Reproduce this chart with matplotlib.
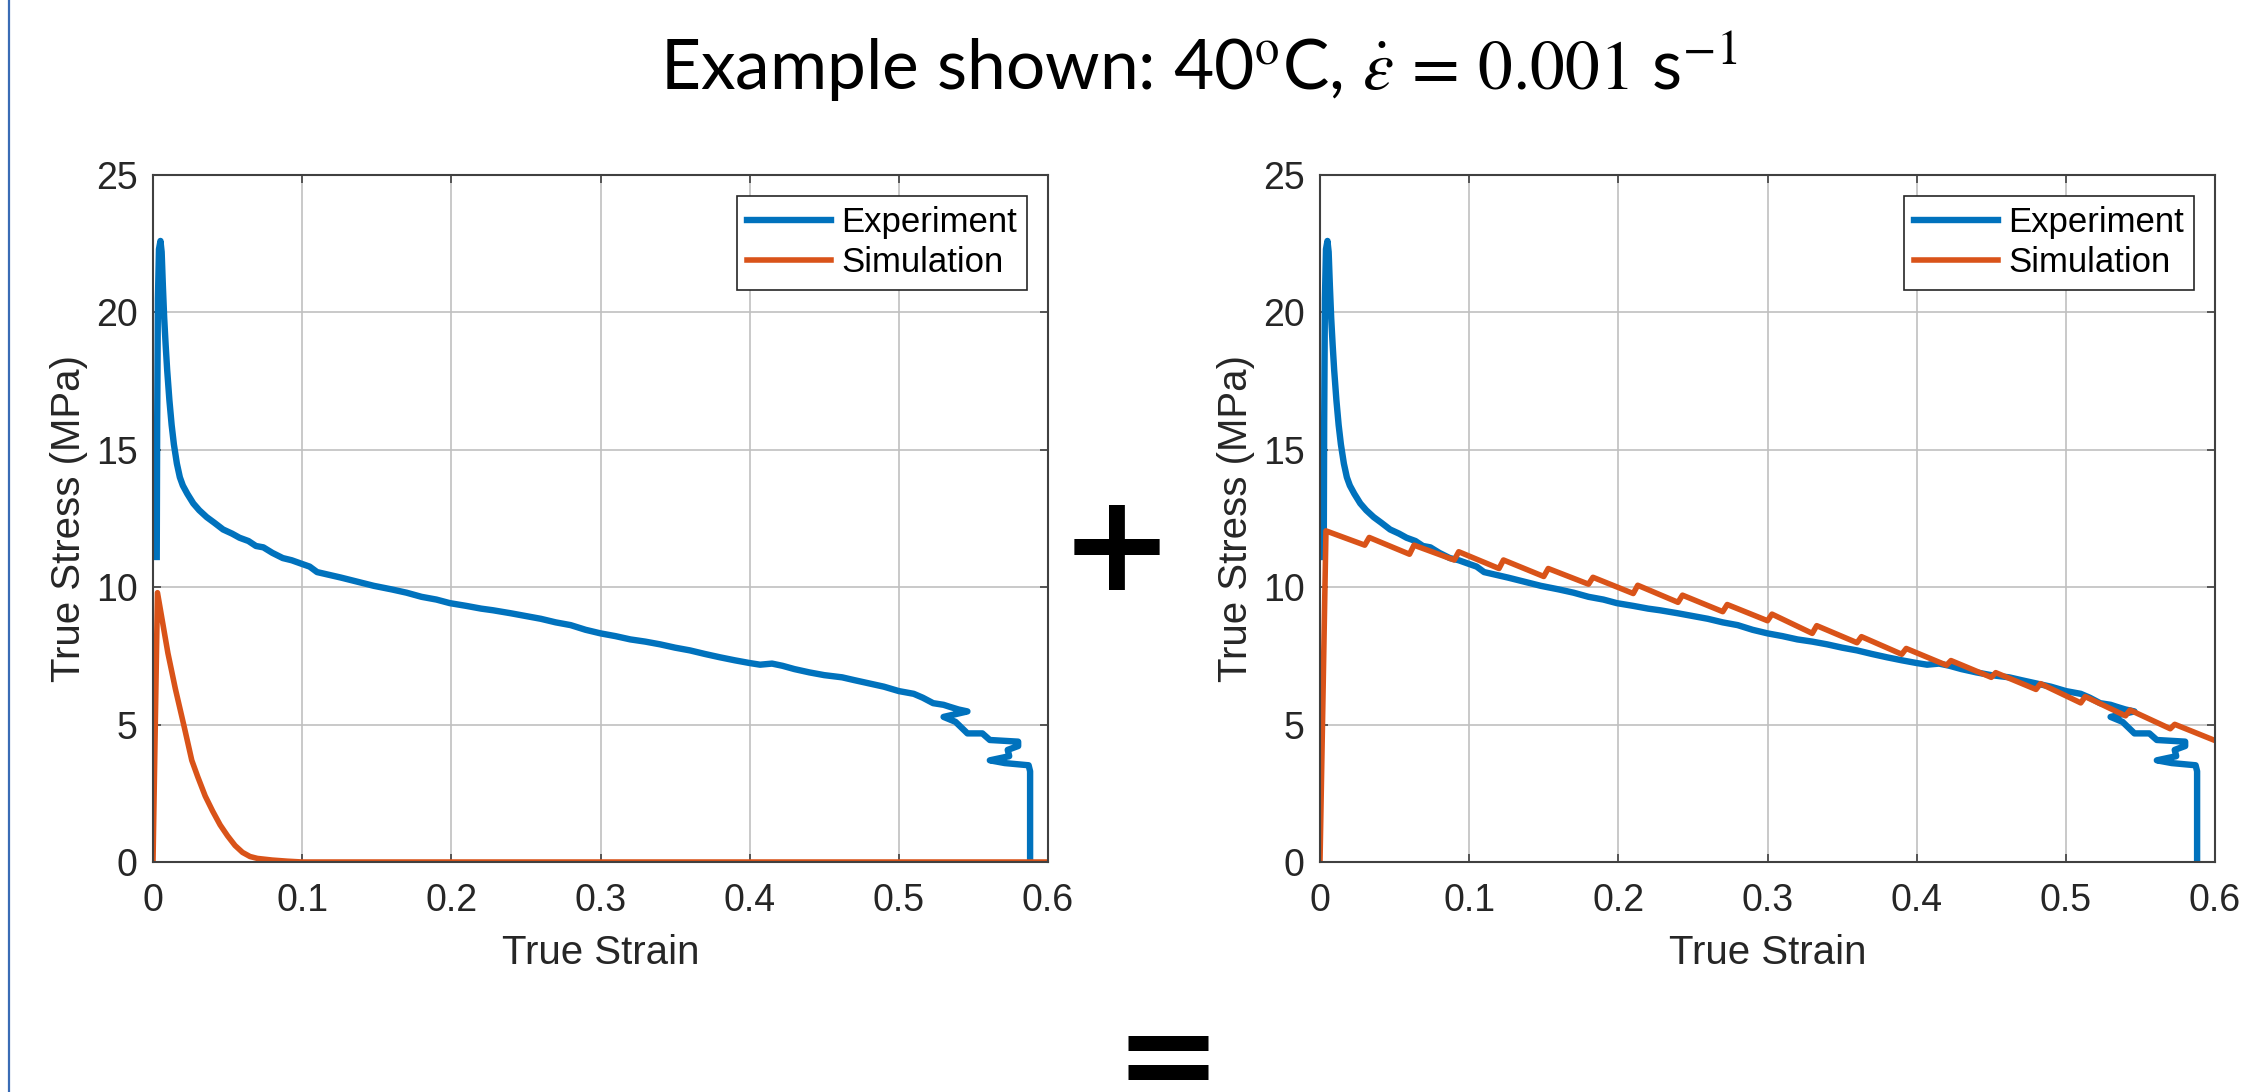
import matplotlib.pyplot as plt
from matplotlib.lines import Line2D

plt.rcParams['mathtext.fontset'] = 'stix'

# Experiment (same test in both panels)
exp_strain = [0.0025, 0.0028, 0.0033, 0.0040, 0.0050, 0.0058, 0.0066, 0.0075, 0.0085, 0.0095,
              0.011, 0.0125, 0.014, 0.016, 0.018, 0.020, 0.023, 0.027, 0.031, 0.036,
              0.041, 0.047, 0.053, 0.058, 0.064, 0.069, 0.074, 0.080, 0.087, 0.093,
              0.0997, 0.105, 0.110, 0.118, 0.126, 0.137, 0.148, 0.160, 0.170, 0.180,
              0.190, 0.199, 0.210, 0.220, 0.228, 0.240, 0.250, 0.260, 0.270, 0.280,
              0.290, 0.300, 0.310, 0.320, 0.330, 0.340, 0.350, 0.360, 0.370, 0.380,
              0.390, 0.400, 0.407, 0.415, 0.422, 0.430, 0.440, 0.450, 0.462, 0.470,
              0.480, 0.490, 0.500, 0.510, 0.516, 0.523, 0.530, 0.534, 0.540, 0.546,
              0.530, 0.538, 0.546, 0.556, 0.561, 0.580, 0.580, 0.573, 0.574, 0.561,
              0.571, 0.587, 0.588, 0.588]
exp_stress = [11.1, 16.0, 20.5, 22.3, 22.6, 22.2, 21.0, 19.8, 18.8, 17.9,
              16.8, 15.9, 15.2, 14.5, 14.0, 13.7, 13.4, 13.05, 12.8, 12.55,
              12.35, 12.1, 11.95, 11.8, 11.68, 11.5, 11.45, 11.25, 11.06, 10.98,
              10.85, 10.75, 10.55, 10.45, 10.35, 10.2, 10.05, 9.92, 9.8, 9.65,
              9.55, 9.42, 9.32, 9.22, 9.16, 9.05, 8.95, 8.85, 8.72, 8.62,
              8.45, 8.32, 8.22, 8.10, 8.02, 7.92, 7.80, 7.70, 7.57, 7.45,
              7.34, 7.24, 7.18, 7.22, 7.14, 7.02, 6.9, 6.8, 6.72, 6.62,
              6.5, 6.38, 6.22, 6.12, 5.98, 5.78, 5.72, 5.65, 5.55, 5.48,
              5.28, 5.10, 4.68, 4.68, 4.44, 4.38, 4.22, 4.08, 3.85, 3.70,
              3.60, 3.52, 3.3, 0.0]

# Simulation, left panel
sim1_strain = [0.0, 0.003, 0.010, 0.015, 0.021, 0.026, 0.030, 0.035, 0.040, 0.045,
               0.050, 0.055, 0.060, 0.065, 0.070, 0.080, 0.090, 0.100, 0.600]
sim1_stress = [0.0, 9.8, 7.6, 6.3, 4.9, 3.7, 3.1, 2.4, 1.85, 1.35,
               0.95, 0.6, 0.35, 0.2, 0.13, 0.07, 0.03, 0.0, 0.0]

# Simulation, right panel
sim2_strain = [0.0, 0.004, 0.030, 0.033, 0.060, 0.063, 0.090, 0.093, 0.120, 0.123,
               0.150, 0.153, 0.180, 0.183, 0.210, 0.213, 0.240, 0.243, 0.270, 0.273,
               0.300, 0.303, 0.330, 0.333, 0.360, 0.363, 0.390, 0.393, 0.420, 0.423,
               0.450, 0.453, 0.480, 0.483, 0.510, 0.513, 0.540, 0.543, 0.570, 0.573,
               0.600]
sim2_stress = [0.0, 12.05, 11.53, 11.81, 11.20, 11.53, 10.99, 11.29, 10.68, 10.99,
               10.39, 10.68, 10.11, 10.36, 9.77, 10.07, 9.45, 9.71, 9.11, 9.37,
               8.78, 9.02, 8.32, 8.60, 7.98, 8.20, 7.56, 7.77, 7.16, 7.33,
               6.72, 6.89, 6.28, 6.49, 5.79, 6.02, 5.32, 5.53, 4.85, 5.01,
               4.42]

x_ticks = [0, 0.1, 0.2, 0.3, 0.4, 0.5, 0.6]
x_labels = ['0', '0.1', '0.2', '0.3', '0.4', '0.5', '0.6']
y_ticks = [0, 5, 10, 15, 20, 25]

blue = '#0072BD'
orange = '#D95319'
dark = '#262626'

W, H = 2241, 1092
fig = plt.figure(figsize=(W / 100, H / 100), dpi=100)

ax1 = fig.add_axes([153 / W, 1 - 862 / H, 895 / W, 687 / H])
ax2 = fig.add_axes([1320 / W, 1 - 862 / H, 895 / W, 687 / H])

for ax, sx, sy in [(ax1, sim1_strain, sim1_stress), (ax2, sim2_strain, sim2_stress)]:
    ax.plot(exp_strain, exp_stress, color=blue, lw=4.6, label='Experiment',
            solid_joinstyle='round')
    ax.plot(sx, sy, color=orange, lw=4.0, label='Simulation', solid_joinstyle='round')
    ax.set_xlim(0, 0.6)
    ax.set_ylim(0, 25)
    ax.set_xticks(x_ticks)
    ax.set_xticklabels(x_labels)
    ax.set_yticks(y_ticks)
    ax.grid(True, color='#c0c0c0', lw=1.2)
    ax.set_axisbelow(True)
    for s in ax.spines.values():
        s.set_color('#404040')
        s.set_linewidth(1.5)
    ax.tick_params(direction='in', length=6, width=1.2, color='#404040',
                   top=True, right=True, labelsize=27, labelcolor=dark)
    ax.tick_params(axis='x', pad=15)
    ax.tick_params(axis='y', pad=11)
    for lab in ax.get_xticklabels() + ax.get_yticklabels():
        lab.set_fontfamily('Liberation Sans')
    ax.set_xlabel('True Strain', fontsize=29, color=dark, family='Liberation Sans', labelpad=11)
    ax.set_ylabel('True Stress (MPa)', fontsize=29, color=dark, family='Liberation Sans', labelpad=6)
    leg = ax.legend(loc='upper right', prop={'family': 'Liberation Sans', 'size': 25},
                    fancybox=False, framealpha=1, edgecolor=dark, borderpad=0.3,
                    labelspacing=0.2, handlelength=2.4, handletextpad=0.3,
                    borderaxespad=0.6)
    leg.get_frame().set_linewidth(1.2)

fig.text(1199 / W, 1 - 90 / H,
         'Example shown: 40$^{\\mathrm{o}}$C, $\\dot{\\varepsilon}\\,=\\,0.001$ s$^{-1}$',
         fontsize=50, family='Lato', ha='center', va='baseline', color='black')

fig.text(1117 / W, 1 - 538 / H, '+', fontsize=98, fontweight='heavy',
         family='DejaVu Sans', ha='center', va='center_baseline', color='black')
fig.text(1168 / W, 1 - 1050 / H, '=', fontsize=92, fontweight='heavy',
         family='DejaVu Sans', ha='center', va='center_baseline', color='black')

fig.add_artist(Line2D([9 / W, 9 / W], [0, 1], color='#3A6CB5', lw=1.6,
                      transform=fig.transFigure))

fig.savefig('out.png', dpi=100)
